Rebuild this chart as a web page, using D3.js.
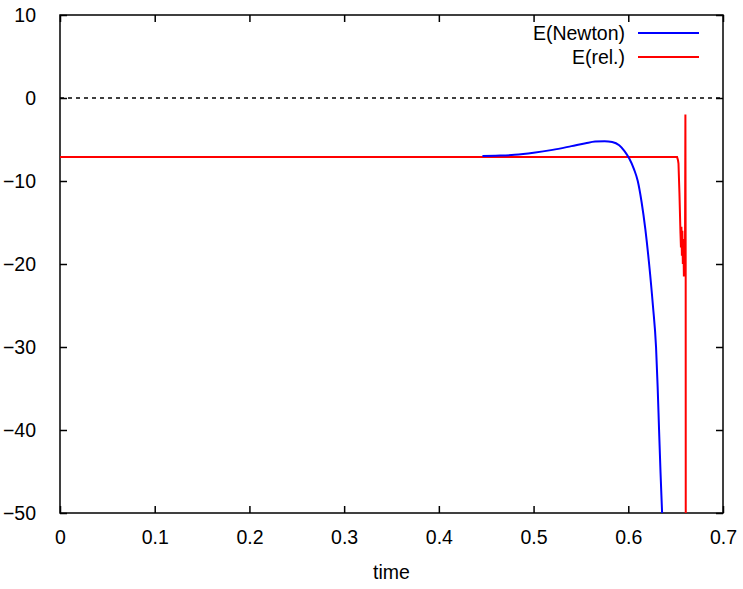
<!DOCTYPE html>
<html><head><meta charset="utf-8">
<script src="https://cdn.jsdelivr.net/npm/d3@7"></script>
<style>body{margin:0;background:#fff}svg{display:block}text{font-family:"Liberation Sans",Arial,sans-serif}</style>
</head><body>
<script>
const xTicks = [0,0.1,0.2,0.3,0.4,0.5,0.6,0.7];
const yTicks = [10,0,-10,-20,-30,-40,-50];
const newtonT = [0.446,0.46,0.48,0.50,0.52,0.54,0.555,0.565,0.575,0.583,0.5904,0.596,0.6009,0.6061,0.610,0.614,0.618,0.622,0.626,0.6293,0.631,0.6325,0.634,0.6357,0.637];
const newtonE = [-7.0,-6.95,-6.85,-6.6,-6.25,-5.8,-5.45,-5.25,-5.2,-5.3,-5.7,-6.4,-7.27,-8.6,-10,-12.5,-15.8,-20,-25,-30,-34.8,-40,-45,-50,-54];
const relT = [0,0.6515,0.6525,0.6530,0.6540,0.6551,0.6556,0.6561,0.6566,0.6571,0.6576,0.6582,0.6587,0.6593,0.6598,0.6603,0.6606,0.6607];
const relE = [-7.1,-7.1,-7.5,-7.9,-11.4,-16.3,-18,-15.5,-19,-16,-20,-17,-21.5,-18,-21,-2,-20,-60];
const seriesNames = ["E(Newton)","E(rel.)"];
const colors = ["#0000ff","#ff0000"];

const W=743,H=589, m={l:60,r:20,t:15,b:76};
const svg=d3.select("body").append("svg").attr("width",W).attr("height",H);
const x=d3.scaleLinear().domain([0,0.7]).range([m.l,W-m.r]);
const y=d3.scaleLinear().domain([-50,10]).range([H-m.b,m.t]);

const defs=svg.append("defs");
defs.append("clipPath").attr("id","clip").append("rect")
  .attr("x",x(0)).attr("y",y(10)).attr("width",x(0.7)-x(0)).attr("height",y(-50)-y(10));

// zero line
svg.append("line").attr("x1",x(0)).attr("x2",x(0.7)).attr("y1",y(0)).attr("y2",y(0))
  .attr("stroke","#000").attr("stroke-width",1.5).attr("stroke-dasharray","4,4");

const fs=19.5;
const ax=svg.append("g");
const axBottom=d3.axisBottom(x).tickValues(xTicks).tickSize(-7).tickPadding(17).tickFormat(d3.format("~g"));
const axTop=d3.axisTop(x).tickValues(xTicks).tickSize(-7).tickFormat("");
const axLeft=d3.axisLeft(y).tickValues(yTicks).tickSize(-7).tickPadding(24).tickFormat(d3.format("~g"));
const axRight=d3.axisRight(y).tickValues(yTicks).tickSize(-7).tickFormat("");
[[axBottom,`translate(0,${y(-50)})`],[axTop,`translate(0,${y(10)})`],[axLeft,`translate(${x(0)},0)`],[axRight,`translate(${x(0.7)},0)`]].forEach(([a,t])=>{
  const g=ax.append("g").attr("transform",t).call(a);
  g.select(".domain").remove();
  g.selectAll(".tick line").attr("stroke","#000").attr("stroke-width",1.5);
  g.selectAll("text").attr("font-size",fs).attr("fill","#000").style("font-family",'"Liberation Sans",Arial,sans-serif');
});
svg.append("rect").attr("x",x(0)).attr("y",y(10)).attr("width",x(0.7)-x(0)).attr("height",y(-50)-y(10))
  .attr("fill","none").attr("stroke","#000").attr("stroke-width",1.5);

const lineSmooth=d3.line().x(d=>x(d[0])).y(d=>y(d[1])).curve(d3.curveMonotoneX);
const lineRaw=d3.line().x(d=>x(d[0])).y(d=>y(d[1]));
const plot=svg.append("g").attr("clip-path","url(#clip)");
plot.append("path").datum(relT.map((t,i)=>[t,relE[i]])).attr("d",lineRaw)
  .attr("fill","none").attr("stroke",colors[1]).attr("stroke-width",2);
plot.append("path").datum(newtonT.map((t,i)=>[t,newtonE[i]])).attr("d",lineSmooth)
  .attr("fill","none").attr("stroke",colors[0]).attr("stroke-width",2);

// legend
seriesNames.forEach((n,i)=>{
  const yy=33+i*24;
  svg.append("text").attr("x",625).attr("y",yy).attr("dy","0.35em").attr("text-anchor","end")
    .attr("font-size",fs).text(n);
  svg.append("line").attr("x1",638).attr("x2",699).attr("y1",yy).attr("y2",yy)
    .attr("stroke",colors[i]).attr("stroke-width",2);
});

svg.append("text").attr("x",(x(0)+x(0.7))/2).attr("y",579).attr("text-anchor","middle")
  .attr("font-size",fs).text("time");
</script>
</body></html>
